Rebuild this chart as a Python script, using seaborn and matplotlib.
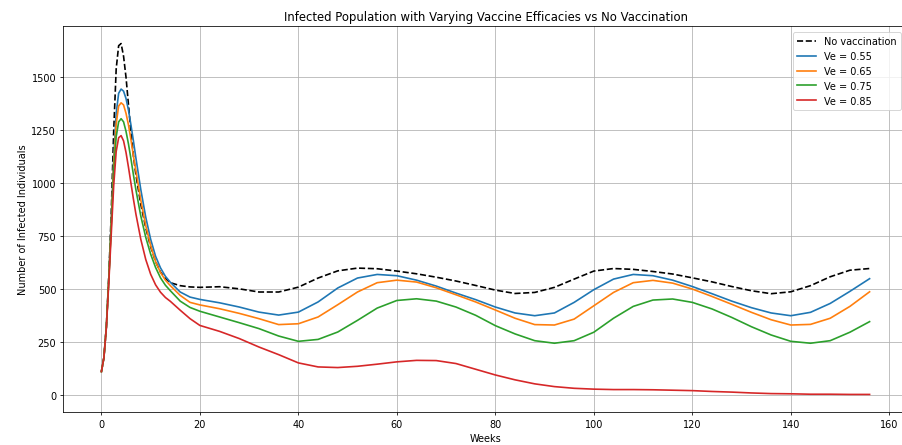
import matplotlib
matplotlib.use("Agg")
import matplotlib.pyplot as plt
import seaborn as sns

weeks = [0, 0.5, 1, 1.5, 2, 2.5, 3, 3.5, 4, 4.5, 5, 5.5, 6, 6.5, 7, 8, 9, 10, 11, 12, 13, 14, 16, 18,
         20, 24, 28, 32, 36, 40, 44, 48, 52, 56, 60, 64, 68, 72, 76, 80, 84, 88, 92, 96, 100,
         104, 108, 112, 116, 120, 124, 128, 132, 136, 140, 144, 148, 152, 156]

no_vacc = [110, 175, 320, 560, 860, 1250, 1540, 1650, 1660, 1600, 1500, 1370, 1240, 1130, 1040, 900,
           790, 700, 630, 580, 550, 530, 516, 510,
           508, 511, 501, 486, 486, 509, 552, 586, 599, 596, 585, 572, 556, 538, 517, 495, 479, 484,
           508, 547, 585, 597, 593, 583, 571, 553, 534, 512, 492, 478, 487, 516, 558, 589, 597]

ve_055 = [110, 175, 320, 550, 820, 1120, 1330, 1425, 1445, 1435, 1400, 1345, 1275, 1200, 1120, 970,
          840, 735, 655, 600, 560, 532, 486, 462,
          451, 435, 415, 391, 377, 391, 439, 505, 552, 569, 563, 542, 514, 481, 450, 415, 387, 374,
          387, 437, 497, 547, 569, 563, 542, 512, 478, 443, 412, 387, 374, 390, 432, 489, 549]

ve_065 = [110, 175, 320, 550, 810, 1090, 1280, 1365, 1380, 1370, 1330, 1275, 1205, 1130, 1060, 920,
          800, 705, 630, 578, 542, 516, 470, 437,
          425, 407, 385, 360, 332, 336, 368, 426, 486, 530, 542, 533, 506, 473, 439, 401, 362, 332,
          330, 358, 421, 484, 530, 541, 528, 500, 465, 428, 390, 355, 330, 333, 362, 418, 487]

ve_075 = [110, 175, 320, 545, 800, 1060, 1220, 1290, 1305, 1290, 1245, 1185, 1115, 1040, 970, 845,
          745, 665, 602, 553, 518, 492, 443, 413,
          395, 368, 341, 313, 278, 253, 262, 297, 352, 410, 446, 454, 443, 415, 376, 327, 288, 256,
          244, 256, 296, 362, 418, 448, 453, 437, 406, 366, 322, 283, 253, 244, 256, 296, 346]

ve_085 = [110, 175, 315, 530, 760, 990, 1150, 1215, 1225, 1200, 1145, 1075, 1000, 925, 855, 735,
          640, 570, 520, 485, 460, 442, 400, 360,
          328, 300, 266, 226, 190, 151, 132, 129, 135, 145, 156, 163, 162, 148, 121, 94, 71, 52,
          39, 31, 27, 25, 25, 24, 22, 20, 16, 13, 9, 6, 5, 3, 3, 2, 2]

labels = ["No vaccination", "Ve = 0.55", "Ve = 0.65", "Ve = 0.75", "Ve = 0.85"]
series = [no_vacc, ve_055, ve_065, ve_075, ve_085]
colors = ["black", "#1f77b4", "#ff7f0e", "#2ca02c", "#d62728"]
styles = ["--", "-", "-", "-", "-"]

W, H = 902, 446
DPI = 70
fig = plt.figure(figsize=(W / DPI, H / DPI), dpi=DPI)
ax = fig.add_axes([63 / W, 33 / H, (908 - 63) / W, (419 - 33) / H])

for lab, ys, c, ls in zip(labels, series, colors, styles):
    sns.lineplot(x=weeks, y=ys, ax=ax, color=c, linestyle=ls, label=lab, linewidth=1.7)

ax.set_xlim(-7.8, 163.8)
ax.set_ylim(-81, 1743)
ax.set_xticks([0, 20, 40, 60, 80, 100, 120, 140, 160])
ax.set_yticks([0, 250, 500, 750, 1000, 1250, 1500])
ax.grid(True)
ax.set_xlabel("Weeks")
ax.set_ylabel("Number of Infected Individuals")
ax.set_title("Infected Population with Varying Vaccine Efficacies vs No Vaccination")
ax.legend(loc="upper right", bbox_to_anchor=(900.5 / W, 412.7 / H),
          bbox_transform=fig.transFigure, borderaxespad=0)

fig.savefig("out.png", dpi=DPI)
